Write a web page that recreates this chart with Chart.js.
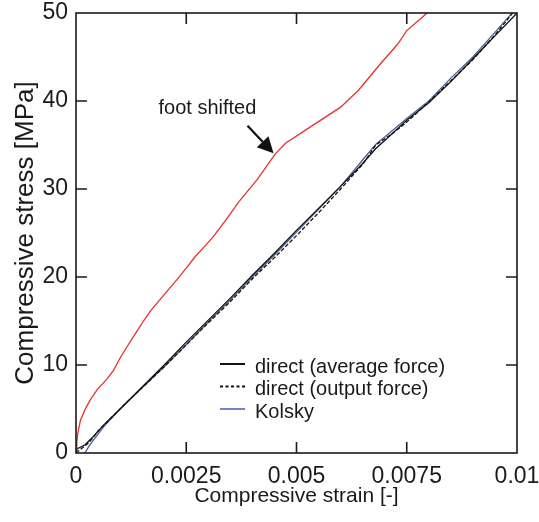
<!DOCTYPE html>
<html>
<head>
<meta charset="utf-8">
<script src="https://cdn.jsdelivr.net/npm/chart.js@4.4.1/dist/chart.umd.min.js"></script>
<style>
  html, body { margin: 0; padding: 0; background: #ffffff; }
  #c { display: block; }
</style>
</head>
<body>
<canvas id="c" width="539" height="522"></canvas>
<script>
// ---- data ----
const xTickLabels = ['0', '0.0025', '0.005', '0.0075', '0.01'];
const yTickLabels = ['0', '10', '20', '30', '40', '50'];

const shiftedStrain = [0, 0.00002, 0.00004, 0.0001, 0.0002, 0.00032, 0.00048, 0.0007, 0.00085, 0.001, 0.00116, 0.00135, 0.00153, 0.0017, 0.0019, 0.0021, 0.00229, 0.0025, 0.0027, 0.0029, 0.0031, 0.0034, 0.0037, 0.0041, 0.00452, 0.00475, 0.0053, 0.006, 0.0064, 0.0069, 0.0073, 0.0075, 0.0078, 0.00796];
const shiftedStress = [0, 1.2, 2.2, 3.7, 4.9, 6.0, 7.2, 8.4, 9.4, 10.8, 12.1, 13.6, 15.0, 16.2, 17.4, 18.6, 19.7, 21.0, 22.3, 23.4, 24.5, 26.5, 28.6, 31.0, 34.0, 35.2, 37.0, 39.3, 41.2, 44.2, 46.5, 48.0, 49.3, 50.0];

const avgStrain = [0, 0.00003, 0.0002, 0.0004, 0.00063, 0.001, 0.0015, 0.002, 0.0025, 0.003, 0.0035, 0.004, 0.0045, 0.005, 0.0055, 0.006, 0.0065, 0.0068, 0.007, 0.0075, 0.008, 0.0085, 0.009, 0.0095, 0.01];
const avgStress = [0, 0.5, 0.9, 1.9, 3.2, 5.0, 7.5, 10.0, 12.6, 15.1, 17.6, 20.2, 22.7, 25.3, 27.8, 30.3, 32.9, 34.6, 35.5, 37.8, 39.8, 42.2, 44.8, 47.4, 50.0];

const outStrain = [0, 0.0001, 0.0003, 0.0005, 0.0008, 0.0012, 0.002, 0.0025, 0.003, 0.0035, 0.004, 0.0045, 0.005, 0.0055, 0.006, 0.0065, 0.0068, 0.0072, 0.0075, 0.008, 0.0085, 0.009, 0.0095, 0.0099];
const outStress = [0, 0.4, 1.2, 2.5, 4.0, 6.0, 9.8, 12.3, 14.8, 17.2, 19.8, 22.2, 24.7, 27.3, 30.0, 32.8, 35.0, 36.4, 37.6, 39.9, 42.3, 44.7, 47.5, 50.0];

const kolskyStrain = [0.0002, 0.0003, 0.0004, 0.00063, 0.001, 0.0015, 0.002, 0.0025, 0.003, 0.0035, 0.004, 0.0045, 0.005, 0.0055, 0.006, 0.0065, 0.0068, 0.007, 0.0075, 0.008, 0.0085, 0.009, 0.0095, 0.0098, 0.0099];
const kolskyStress = [0, 0.8, 1.5, 3.0, 5.0, 7.4, 9.8, 12.3, 14.9, 17.4, 20.0, 22.5, 25.1, 27.7, 30.3, 33.3, 35.1, 35.9, 38.0, 40.0, 42.6, 45.0, 47.8, 49.5, 50.0];

const legendLabels = ['direct (average force)', 'direct (output force)', 'Kolsky'];
const annotationText = 'foot shifted';

const toPts = (xs, ys) => xs.map((x, i) => ({ x: x, y: ys[i] }));

const FONT = "'Liberation Sans', Arial, Helvetica, sans-serif";
const TEXT = '#1a1a1a';
const RED = '#e8312f';
const BLUE = '#4b5f98';

// ---- plugin: frame, inward ticks, legend, annotation ----
const decor = {
  id: 'decor',
  afterDatasetsDraw(chart) {
    const ctx = chart.ctx;
    const a = chart.chartArea;
    const xs = chart.scales.x, ys = chart.scales.y;
    ctx.save();
    // frame
    ctx.strokeStyle = '#1a1a1a';
    ctx.lineWidth = 1.6;
    ctx.strokeRect(a.left, a.top, a.right - a.left, a.bottom - a.top);
    // inward ticks
    const tl = 11;
    ctx.beginPath();
    xs.ticks.forEach(t => {
      if (t.value <= xs.min || t.value >= xs.max) return;
      const px = xs.getPixelForValue(t.value);
      ctx.moveTo(px, a.bottom); ctx.lineTo(px, a.bottom - tl);
      ctx.moveTo(px, a.top); ctx.lineTo(px, a.top + tl);
    });
    ys.ticks.forEach(t => {
      if (t.value <= ys.min || t.value >= ys.max) return;
      const py = ys.getPixelForValue(t.value);
      ctx.moveTo(a.left, py); ctx.lineTo(a.left + tl, py);
      ctx.moveTo(a.right, py); ctx.lineTo(a.right - tl, py);
    });
    ctx.stroke();

    // legend
    const ds = chart.data.datasets.filter(d => d.showInLegend);
    const lx0 = a.left + 144, lx1 = a.left + 169, tx = a.left + 179;
    const ly0 = a.top + 354, dy = 22.5;
    ctx.font = '20px ' + FONT;
    ctx.textBaseline = 'middle';
    ctx.textAlign = 'left';
    ds.forEach((d, i) => {
      const y = ly0 + i * dy;
      ctx.beginPath();
      ctx.strokeStyle = d.legendColor || d.borderColor;
      ctx.lineWidth = 2;
      ctx.setLineDash(d.borderDash && d.borderDash.length ? [3, 2.5] : []);
      ctx.moveTo(lx0, y - 3); ctx.lineTo(lx1, y - 3);
      ctx.stroke();
      ctx.setLineDash([]);
      ctx.fillStyle = TEXT;
      ctx.fillText(d.label, tx, y);
    });

    // annotation
    ctx.fillStyle = TEXT;
    ctx.font = '20px ' + FONT;
    ctx.textAlign = 'center';
    ctx.textBaseline = 'middle';
    const txp = xs.getPixelForValue(0.00298), typ = ys.getPixelForValue(39.2);
    ctx.fillText(annotationText, txp, typ);
    const sx = xs.getPixelForValue(0.00389), sy = ys.getPixelForValue(37.2);
    const ex = xs.getPixelForValue(0.00448), ey = ys.getPixelForValue(34.05);
    const ang = Math.atan2(ey - sy, ex - sx);
    const hl = 16, hw = 8;
    const bx = ex - hl * Math.cos(ang), by = ey - hl * Math.sin(ang);
    ctx.strokeStyle = '#111';
    ctx.lineWidth = 2.2;
    ctx.beginPath();
    ctx.moveTo(sx, sy); ctx.lineTo(bx, by);
    ctx.stroke();
    ctx.fillStyle = '#111';
    ctx.beginPath();
    ctx.moveTo(ex, ey);
    ctx.lineTo(bx + hw * Math.sin(ang), by - hw * Math.cos(ang));
    ctx.lineTo(bx - hw * Math.sin(ang), by + hw * Math.cos(ang));
    ctx.closePath();
    ctx.fill();
    ctx.restore();
  }
};

new Chart(document.getElementById('c'), {
  type: 'scatter',
  data: {
    datasets: [
      { label: 'shifted', data: toPts(shiftedStrain, shiftedStress), borderColor: RED, borderWidth: 1.3, showLine: true, pointRadius: 0, tension: 0, showInLegend: false },
      { label: legendLabels[0], data: toPts(avgStrain, avgStress), borderColor: '#111', borderWidth: 1.3, showLine: true, pointRadius: 0, tension: 0, showInLegend: true },
      { label: legendLabels[1], data: toPts(outStrain, outStress), borderColor: '#111', borderWidth: 1.3, borderDash: [4, 2], showLine: true, pointRadius: 0, tension: 0, showInLegend: true },
      { label: legendLabels[2], data: toPts(kolskyStrain, kolskyStress), borderColor: BLUE, legendColor: '#7088b8', borderWidth: 1.3, showLine: true, pointRadius: 0, tension: 0, showInLegend: true }
    ]
  },
  options: {
    responsive: false,
    animation: false,
    layout: { padding: { top: 13, right: 22, left: 0, bottom: 0 } },
    plugins: { legend: { display: false }, tooltip: { enabled: false } },
    scales: {
      x: {
        type: 'linear', min: 0, max: 0.01,
        afterFit: s => { s.height = 69; s.paddingLeft = 0; s.paddingRight = 0; },
        ticks: { stepSize: 0.0025, callback: (v, i) => xTickLabels[i], font: { family: FONT, size: 23 }, color: TEXT, padding: 10, maxRotation: 0, autoSkip: false },
        grid: { display: false, drawTicks: false },
        border: { display: false },
        title: { display: true, text: 'Compressive strain [-]', font: { family: FONT, size: 21 }, color: TEXT, padding: { top: 0, bottom: 13 } }
      },
      y: {
        type: 'linear', min: 0, max: 50,
        afterFit: s => { s.width = 76; s.paddingTop = 0; s.paddingBottom = 0; },
        ticks: { stepSize: 10, callback: (v, i) => yTickLabels[i], font: { family: FONT, size: 23 }, color: TEXT, padding: 8 },
        grid: { display: false, drawTicks: false },
        border: { display: false },
        title: { display: true, text: 'Compressive stress [MPa]', font: { family: FONT, size: 26 }, color: TEXT, padding: { top: 10, bottom: 0 } }
      }
    }
  },
  plugins: [decor]
});
</script>
</body>
</html>
